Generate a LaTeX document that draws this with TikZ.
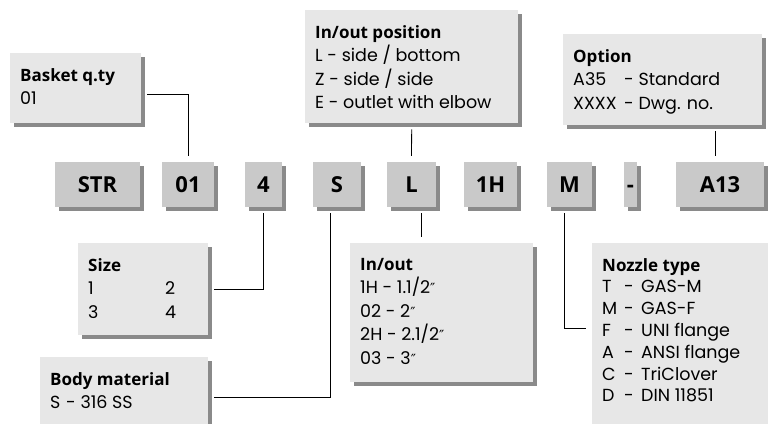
\documentclass[tikz,border=0pt]{standalone}
\usepackage{fontspec}
\setmainfont{Poppins}
\newfontfamily\headfont{Open Sans}
\newfontfamily\primefont{DejaVu Sans}
\usetikzlibrary{positioning}
\usetikzlibrary{shadows}

\definecolor{codegray}{gray}{0.79}
\definecolor{descgray}{gray}{0.905}
\definecolor{shadegray}{gray}{0.54}

\newcommand{\hd}[1]{{\headfont\bfseries\fontsize{17}{23.5}\selectfont #1}}
\newcommand{\boxbody}[3]{\begin{minipage}[t][#2][t]{#1}\fontsize{17.5}{23.5}\selectfont\vspace*{15pt}#3\end{minipage}}
\newcommand{\inch}{{\primefont\fontsize{14}{14}\selectfont ″}}

\begin{document}
\begin{tikzpicture}[x=1pt,y=-1pt]
  \tikzstyle{code}=[fill=codegray, drop shadow={shadow xshift=3.5pt, shadow yshift=-3.5pt, fill=shadegray, opacity=1}, minimum height=45pt, inner sep=0pt, text height=16pt, text depth=0pt, font=\headfont\bfseries\fontsize{22}{24}\selectfont]
  \tikzstyle{desc}=[fill=descgray, drop shadow={shadow xshift=3.5pt, shadow yshift=-3.5pt, fill=shadegray, opacity=1}, anchor=north west, inner xsep=10pt, inner ysep=0pt]
  \tikzstyle{link}=[line width=0.8pt, shorten <=6pt, shorten >=6pt]

  \useasboundingbox (0,0) rectangle (768,423);
  \clip (0,0) rectangle (768,423);

  % code row
  \foreach \name/\pos/\w/\txt in
    { cStr/97.5/85/STR
    , cQty/188/52/01
    , cSize/263.5/37/4
    , cMat/337/48/S
    , cPos/411.5/49/L
    , cConn/490.5/53/1H
    , cNoz/569.5/45/M
    , cDash/630.5/13/-
    , cOpt/720/88/A13
    }
    \node[code, minimum width=\w pt] (\name) at (\pos, 184.5) {\txt};

  % description boxes
  \node[desc] (qtybox) at (10, 53)
    {\boxbody{111pt}{70pt}{\hd{Basket q.ty}\\01}};
  \node[desc] (posbox) at (305, 10)
    {\boxbody{193pt}{113pt}{\hd{In/out position}\\L - side / bottom\\Z - side / side\\E - outlet with elbow}};
  \node[desc] (optbox) at (563, 34)
    {\boxbody{179pt}{91pt}{\hd{Option}\\\makebox[51pt][l]{A35}- Standard\\\makebox[51pt][l]{XXXX}- Dwg. no.}};
  \node[desc] (sizebox) at (78, 243)
    {\boxbody{110pt}{92pt}{\hd{Size}\\\makebox[77pt][l]{1}2\\\makebox[77pt][l]{3}4}};
  \node[desc] (matbox) at (40, 357)
    {\boxbody{148pt}{80pt}{\hd{Body material}\\\makebox[16pt][l]{S}- 316 SS}};
  \node[desc] (inoutbox) at (350, 243)
    {\boxbody{163pt}{139pt}{\hd{In/out}\\1H - 1.1/2\inch\\02 - 2\inch\\2H - 2.1/2\inch\\03 - 3\inch}};
  \node[desc] (nozbox) at (592, 243)
    {\boxbody{165pt}{190pt}{\fontsize{17.5}{21.8}\selectfont\hd{Nozzle type}\\
      \makebox[22pt][l]{T}\makebox[17pt][l]{-}GAS-M\\
      \makebox[22pt][l]{M}\makebox[17pt][l]{-}GAS-F\\
      \makebox[22pt][l]{F}\makebox[17pt][l]{-}UNI flange\\
      \makebox[22pt][l]{A}\makebox[17pt][l]{-}ANSI flange\\
      \makebox[22pt][l]{C}\makebox[17pt][l]{-}TriClover\\
      \makebox[22pt][l]{D}\makebox[17pt][l]{-}DIN 11851}};

  % connectors
  \coordinate (posfoot) at ([xshift=10pt]cPos.south);
  \coordinate (optfoot) at ([xshift=-5pt]cOpt.north);
  \draw[link] ([yshift=-6pt]qtybox.east) -| (cQty.north);
  \draw[link] (posbox.south) -- (cPos.north);
  \draw[link] (optfoot) -- (optfoot |- optbox.south);
  \draw[link] (sizebox.east) -| (cSize.south);
  \draw[link] (matbox.east) -| ([xshift=-7pt]cMat.south);
  \draw[link] (posfoot) -- (posfoot |- inoutbox.north);
  \draw[link] ([xshift=-5pt]cNoz.south) |- ([yshift=10pt]nozbox.west);
\end{tikzpicture}
\end{document}
